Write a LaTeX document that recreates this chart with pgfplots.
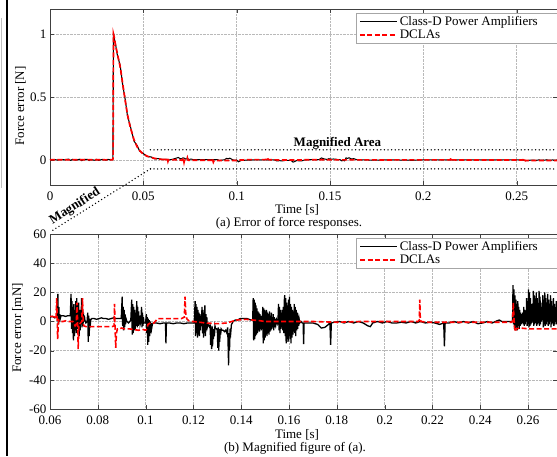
\documentclass[border=0pt]{standalone}
\usepackage{fontspec}
\setmainfont{Liberation Serif}
\usepackage{pgfplots}
\usepackage{pgfplotstable}
\pgfplotsset{compat=1.18}
\newcommand\fs{\fontsize{13}{14}\selectfont}

% Class-D, early part of (a), in N
\pgfplotstableread{
x y
0 0
0.002 0.002
0.004 -0.001
0.006 0.002
0.008 0
0.010 0.006
0.011 -0.004
0.012 0.003
0.014 -0.002
0.016 0.005
0.017 -0.006
0.018 0.002
0.020 0.004
0.021 -0.005
0.022 0.002
0.024 -0.003
0.025 0.004
0.026 -0.004
0.028 0.003
0.030 -0.002
0.031 0.003
0.033 0
0.0337 0.005
0.0340 1.01
0.0345 0.96
0.0350 0.93
0.0360 0.84
0.0376 0.75
0.0390 0.59
0.0403 0.48
0.0415 0.35
0.0430 0.27
0.0450 0.15
0.0468 0.11
0.0480 0.07
0.0500 0.05
0.0520 0.026
0.0540 0.024
0.0560 0.008
0.0580 0.010
0.0600 0.003
}\blacktop

% DCLAs, early part of (a), in N
\pgfplotstableread{
x y
0 0
0.005 0.001
0.010 0
0.015 0.001
0.020 0
0.025 0.001
0.030 0
0.0335 0.001
0.0338 0.01
0.0340 1.0
0.0345 0.97
0.0350 0.92
0.0360 0.85
0.0376 0.74
0.0390 0.60
0.0403 0.47
0.0415 0.36
0.0430 0.26
0.0450 0.16
0.0468 0.10
0.0480 0.075
0.0500 0.045
0.0520 0.030
0.0540 0.020
0.0560 0.012
0.0580 0.007
0.0600 0.0035
}\redtop

% Class-D, magnified, in mN
\pgfplotstableread{
x y
0.0600 3
0.0610 3.5
0.0620 2.5
0.0628 3
0.0630 3
0.0633 19
0.0635 -2
0.0637 10
0.0639 0
0.0641 5
0.0643 2
0.0646 4
0.0655 4
0.0665 3.5
0.0675 4
0.0685 4
0.0688 19
0.0690 -5
0.0692 14
0.0694 -8
0.0696 10
0.0698 -13
0.0700 12
0.0702 -10
0.0704 8
0.0706 -6
0.0708 14
0.0710 -8
0.0712 16
0.0714 -5
0.0716 10
0.0718 -3
0.0720 13
0.0722 -10
0.0724 8
0.0726 -6
0.0728 6
0.0730 -2
0.0732 16
0.0734 -4
0.0736 10
0.0738 -3
0.0740 6
0.0742 0
0.0744 4
0.0746 1
0.0750 -1
0.0755 0
0.0758 6
0.0760 -14
0.0762 4
0.0764 -10
0.0766 2
0.0768 -4
0.0770 1
0.0775 2
0.0785 2
0.0795 1.5
0.0805 2
0.0815 2.5
0.0825 2
0.0835 2
0.0845 1.5
0.0855 2
0.0865 2.5
0.0875 2
0.0885 2
0.0895 2
0.0898 2
0.0902 17
0.0904 -3
0.0906 10
0.0908 -6
0.0910 8
0.0912 -4
0.0914 5
0.0916 -2
0.0918 2
0.0922 0
0.0928 -1
0.0934 0
0.0938 1
0.0942 15
0.0944 -9
0.0946 12
0.0948 -8
0.0950 10
0.0952 -6
0.0954 8
0.0956 -5
0.0958 6
0.0960 -3
0.0963 14
0.0965 -4
0.0967 10
0.0969 -3
0.0971 7
0.0973 -2
0.0975 4
0.0977 -2
0.0980 0
0.0983 10
0.0985 -4
0.0987 6
0.0989 -3
0.0991 3
0.0993 -1
0.0997 -1
0.1000 -1
0.1003 5
0.1005 -8
0.1007 3
0.1009 -16
0.1011 2
0.1013 -14
0.1015 1
0.1017 -10
0.1019 0
0.1021 -8
0.1023 -1
0.1025 -5
0.1028 -2
0.1032 -1
0.1045 -1
0.1060 -1.5
0.1075 -1
0.1083 -1
0.1085 -15
0.1087 -1
0.1100 -1
0.1115 -1.5
0.1130 -1
0.1145 -1
0.1160 -1.5
0.1175 -1
0.1190 -1
0.1204 -1
0.1207 14
0.1209 -10
0.1211 12
0.1213 -8
0.1215 10
0.1217 -11
0.1219 8
0.1221 -9
0.1223 6
0.1225 -10
0.1227 5
0.1229 -6
0.1231 4
0.1233 -3
0.1236 10
0.1238 -8
0.1240 8
0.1242 -11
0.1244 6
0.1246 -8
0.1248 11
0.1250 -10
0.1252 5
0.1254 -6
0.1256 3
0.1258 -4
0.1261 -2
0.1265 -3
0.1268 -4
0.1270 -2
0.1272 -16
0.1274 -4
0.1276 -19
0.1278 -3
0.1280 -17
0.1282 -5
0.1284 -12
0.1286 -5
0.1288 -10
0.1290 -3
0.1293 -5
0.1297 -5
0.1300 -6
0.1302 -18
0.1304 -4
0.1306 -20
0.1308 -5
0.1310 -14
0.1312 -5
0.1314 -9
0.1316 -5
0.1320 -6
0.1325 -6
0.1330 -7
0.1335 -6
0.1340 -8
0.1343 -4
0.1345 -15
0.1347 -30
0.1349 -8
0.1351 -20
0.1353 -5
0.1356 -8
0.1359 -2
0.1363 -1
0.1366 0
0.1375 1
0.1385 1
0.1395 2
0.1410 2
0.1425 2
0.1440 1
0.1448 1
0.1450 16
0.1452 -13
0.1454 15
0.1456 -12
0.1458 13
0.1460 -10
0.1462 11
0.1464 -9
0.1466 9
0.1468 -8
0.1470 7
0.1472 -6
0.1474 6
0.1476 -7
0.1478 5
0.1480 -5
0.1482 4
0.1484 -6
0.1486 3
0.1488 -3
0.1490 10
0.1492 -15
0.1494 9
0.1496 -13
0.1498 8
0.1500 -11
0.1502 7
0.1504 -9
0.1506 8
0.1508 -10
0.1510 6
0.1512 -8
0.1514 5
0.1516 -9
0.1518 7
0.1520 -7
0.1522 4
0.1524 -6
0.1526 6
0.1528 -5
0.1530 3
0.1532 -4
0.1534 5
0.1536 -6
0.1538 3
0.1540 -4
0.1542 2
0.1545 -2
0.1548 1
0.1551 -1
0.1554 2
0.1556 12
0.1558 -6
0.1560 10
0.1562 -8
0.1564 8
0.1566 -5
0.1568 6
0.1570 -4
0.1572 8
0.1574 -6
0.1576 10
0.1578 -8
0.1580 14
0.1582 18
0.1584 -10
0.1586 16
0.1588 -15
0.1590 13
0.1592 -12
0.1594 11
0.1596 -14
0.1598 15
0.1600 -10
0.1602 17
0.1604 -12
0.1606 12
0.1608 -15
0.1610 10
0.1612 -11
0.1614 8
0.1616 -9
0.1618 7
0.1620 -7
0.1622 12
0.1624 -8
0.1626 10
0.1628 -10
0.1630 8
0.1632 -6
0.1634 6
0.1636 -5
0.1638 4
0.1640 -3
0.1642 2
0.1645 -1
0.1650 0
0.1655 -1
0.1659 -1
0.1661 -15.5
0.1663 -1
0.1680 -1
0.1700 -1
0.1720 -2
0.1735 -4.5
0.1750 -4
0.1765 -2
0.1771 -1
0.1774 -16
0.1777 -1
0.1790 -0.5
0.1810 0
0.1830 -1
0.1850 0
0.1870 -1
0.1890 0
0.1910 -1
0.1930 -3
0.1940 -3.5
0.1950 -1
0.1970 0
0.1990 -1
0.2010 0
0.2030 -1
0.2050 -1
0.2070 -0.5
0.2090 -1
0.2110 0
0.2130 -1
0.2150 0
0.2170 -1
0.2190 -0.5
0.2210 -1
0.2230 -2
0.2247 -1
0.2250 -17
0.2253 -1
0.2270 -1
0.2290 0
0.2310 -1
0.2330 0
0.2350 -1
0.2370 0
0.2390 -1.5
0.2410 -1
0.2430 0
0.2450 -1
0.2470 0.5
0.2480 1
0.2490 0
0.2510 0
0.2530 0
0.2535 0
0.2537 25
0.2539 -2
0.2541 22
0.2543 -5
0.2545 18
0.2547 -6
0.2549 15
0.2551 -4
0.2553 12
0.2555 -6
0.2557 14
0.2559 -3
0.2561 10
0.2563 -5
0.2565 8
0.2567 -3
0.2569 6
0.2571 -2
0.2573 5
0.2575 -1
0.2578 6
0.2580 -2
0.2582 10
0.2584 -3
0.2586 8
0.2588 -2
0.2590 5
0.2592 0
0.2594 16
0.2596 -3
0.2598 12
0.2600 -2
0.2602 22
0.2604 -4
0.2606 20
0.2608 -3
0.2610 16
0.2612 -2
0.2614 12
0.2616 -1
0.2618 9
0.2620 0
0.2622 21
0.2624 -3
0.2626 18
0.2628 -2
0.2630 14
0.2632 -1
0.2634 20
0.2636 -3
0.2638 16
0.2640 -2
0.2642 12
0.2644 -1
0.2646 21
0.2648 -3
0.2650 17
0.2652 -2
0.2654 13
0.2656 0
0.2658 9
0.2660 1
0.2662 18
0.2664 -4
0.2666 15
0.2668 -2
0.2670 20
0.2672 -3
0.2674 16
0.2676 -2
0.2678 12
0.2680 0
0.2682 19
0.2684 -3
0.2686 15
0.2688 -2
0.2690 11
0.2692 0
0.2694 18
0.2696 -4
0.2698 14
0.2700 -2
0.2702 10
0.2704 -1
0.2706 16
0.2708 -3
0.2710 12
0.2712 -2
0.2714 8
0.2716 0
0.2718 14
0.2720 -2
0.2722 10
0.2725 -1
}\blackmag

% DCLAs, magnified, in mN
\pgfplotstableread{
x y
0.0600 3.5
0.0610 3.5
0.0620 3
0.0625 2
0.0628 16
0.0630 3
0.0632 -12
0.0634 -4
0.0637 1
0.0645 0
0.0655 0
0.0665 0.5
0.0680 0
0.0695 0
0.0700 -1
0.0705 -3
0.0710 -2
0.0713 13
0.0716 -3
0.0718 -19
0.0720 -5
0.0722 -2
0.0728 -1
0.0733 0
0.0736 16
0.0739 -1
0.0742 -3
0.0750 -3.5
0.0780 -3.5
0.0820 -3.5
0.0860 -3.5
0.0868 -3
0.0870 12
0.0872 -3
0.0875 -18
0.0878 -8
0.0882 -5
0.0890 -5
0.0900 -4.5
0.0910 -5
0.0930 -5
0.0950 -5.5
0.0970 -6
0.0990 -5.5
0.1000 -6
0.1005 -5
0.1010 -2
0.1020 -1
0.1035 -1
0.1040 0
0.1045 1
0.1050 2
0.1070 2
0.1100 2
0.1130 2
0.1150 2
0.1162 3
0.1165 17
0.1168 5
0.1172 2
0.1180 0.5
0.1190 0
0.1200 0
0.1250 -1
0.1300 -1.5
0.1340 -1
0.1360 0
0.1380 1
0.1420 1.5
0.1450 1
0.1480 0.5
0.1500 0
0.1600 0
0.1700 0
0.1800 -0.5
0.1900 0
0.2000 0
0.2100 0
0.2140 0
0.2145 1
0.2147 15
0.2149 2
0.2152 0
0.2180 -0.5
0.2250 -0.5
0.2350 -0.5
0.2450 -0.5
0.2530 -0.5
0.2535 0
0.2538 13
0.2541 2
0.2544 -5
0.2547 -7
0.2550 -5
0.2570 -4.5
0.2600 -5
0.2650 -5
0.2720 -5
}\redmag

\pgfplotsset{
  myaxis/.style={
    scale only axis,
    width=507pt,
    axis line style={black!75},
    tick style={black!75},
    major tick length=4pt,
    grid=major,
    grid style={densely dotted, gray!55},
    scaled ticks=false,
    tick label style={font=\fs},
    /pgf/number format/assume math mode=true,
    xticklabel style={/pgf/number format/fixed, yshift=-3.5pt},
    legend style={font=\fs, draw=gray!70, inner xsep=3pt, inner ysep=1.5pt,
      nodes={inner xsep=2pt, inner ysep=1.8pt},
      row sep=-1pt, cells={anchor=west}, anchor=north east,
      at={(1,1)}, yshift=-4pt},
    legend image code/.code={\draw[mark=none,#1] (0pt,0pt) -- (37pt,0pt);},
    legend cell align=left,
  }
}

\begin{document}
\begin{tikzpicture}
\useasboundingbox (0,0) rectangle (557pt,-456pt);
% scanned border
\draw[line width=2.4pt, black] (7.2pt,0pt) -- (7.2pt,-456pt);
\draw[line width=0.6pt, gray!50] (1pt,-18pt) -- (1pt,-188pt);

\begin{axis}[myaxis, name=top,
  at={(50pt,-185pt)}, anchor=south west, height=176pt,
  xmin=0, xmax=0.2716, ymin=-0.2, ymax=1.2,
  xtick={0,0.05,0.1,0.15,0.2,0.25},
  ytick={0,0.5,1},
  clip=false]
\addplot[black, line width=1.1pt] table {\blacktop};
\addlegendentry{\makebox[152pt][l]{Class-D Power Amplifiers}}
\addplot[red, line width=1.7pt, dash pattern=on 5pt off 2.5pt] table {\redtop};
\addlegendentry{DCLAs}
\addplot[black, line width=1pt, forget plot, each nth point=4] table[y expr=\thisrow{y}/1000] {\blackmag};
\addplot[red, line width=1.7pt, dash pattern=on 5pt off 2.5pt, forget plot] table[y expr=\thisrow{y}/1000] {\redmag};
\draw[line width=1.5pt, line cap=round, dash pattern=on 0pt off 3.6pt]
  (axis cs:0.0538,0.08) -- (axis cs:0.2716,0.08);
\draw[line width=1.5pt, line cap=round, dash pattern=on 0pt off 3.6pt]
  (axis cs:0.0538,-0.072) -- (axis cs:0.2716,-0.072);
\coordinate (mbl) at (axis cs:0.0538,-0.072);
\node[font=\fs\bfseries, anchor=base] at (axis cs:0.154,0.105) {Magnified Area};
\end{axis}

\begin{axis}[myaxis, name=bot,
  at={(50pt,-409pt)}, anchor=south west, height=175pt,
  xmin=0.06, xmax=0.2721, ymin=-60, ymax=60,
  xtick={0.06,0.08,0.1,0.12,0.14,0.16,0.18,0.2,0.22,0.24,0.26},
  ytick={-60,-40,-20,0,20,40,60}]
\addplot[black, line width=1.3pt] table {\blackmag};
\addlegendentry{\makebox[152pt][l]{Class-D Power Amplifiers}}
\addplot[red, line width=1.6pt, dash pattern=on 5pt off 2.5pt] table {\redmag};
\addlegendentry{DCLAs}
\end{axis}

\draw[line width=1.5pt, line cap=round, dash pattern=on 0pt off 3.6pt]
  (mbl) -- (50pt,-232pt);
\node[font=\fs\bfseries, rotate=32.6, inner sep=0pt] at (75pt,-206.5pt) {Magnified};

\node[font=\fs, rotate=90] at (20.5pt,-106pt) {Force error [N]};
\node[font=\fs, rotate=90] at (17.5pt,-328pt) {Force error [mN]};
\node[font=\fs, anchor=base] at (297pt,-213pt) {Time [s]};
\node[font=\fs, anchor=base] at (289pt,-226pt) {(a) Error of force responses.};
\node[font=\fs, anchor=base] at (297pt,-438pt) {Time [s]};
\node[font=\fs, anchor=base] at (295pt,-451pt) {(b) Magnified figure of (a).};
\end{tikzpicture}
\end{document}
